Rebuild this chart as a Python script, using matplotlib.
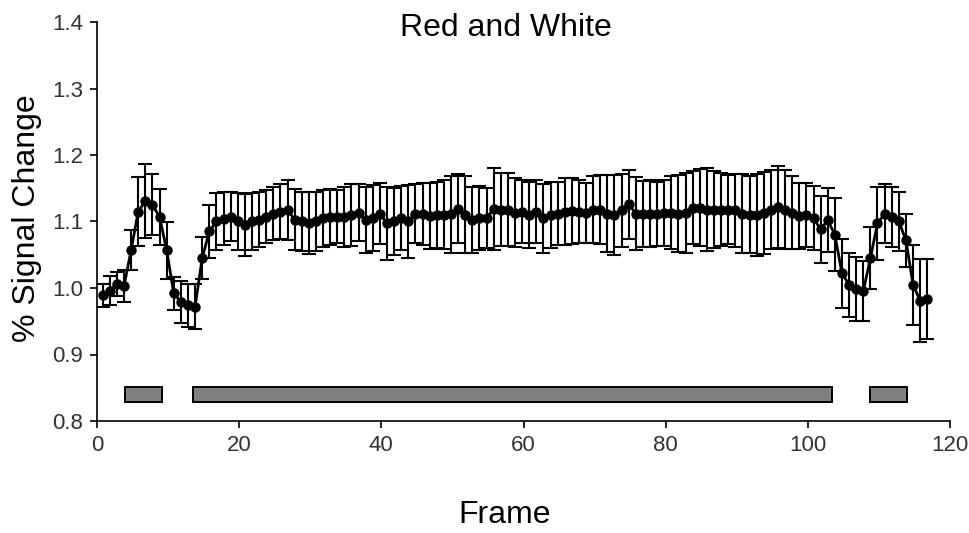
import numpy as np
import matplotlib
matplotlib.use("Agg")
import matplotlib.pyplot as plt

plt.rcParams["font.family"] = ["Liberation Sans", "DejaVu Sans"]

# mean % signal change per frame, with its standard error
frames = np.arange(1, 118)
signal = [
    0.989, 0.996, 1.006, 1.003, 1.057, 1.115, 1.131, 1.125, 1.107, 1.057,
    0.992, 0.979, 0.974, 0.972, 1.045, 1.085, 1.100, 1.104, 1.107, 1.100,
    1.095, 1.100, 1.103, 1.107, 1.112, 1.115, 1.117, 1.103, 1.100, 1.098,
    1.100, 1.105, 1.107, 1.107, 1.107, 1.110, 1.113, 1.102, 1.105, 1.112,
    1.097, 1.100, 1.105, 1.100, 1.112, 1.111, 1.108, 1.110, 1.110, 1.111,
    1.119, 1.110, 1.102, 1.105, 1.105, 1.119, 1.118, 1.118, 1.113, 1.115,
    1.110, 1.115, 1.105, 1.110, 1.112, 1.115, 1.116, 1.115, 1.113, 1.118,
    1.118, 1.112, 1.110, 1.117, 1.126, 1.112, 1.111, 1.112, 1.111, 1.113,
    1.113, 1.112, 1.113, 1.121, 1.121, 1.118, 1.118, 1.118, 1.118, 1.117,
    1.112, 1.110, 1.110, 1.113, 1.118, 1.122, 1.118, 1.113, 1.108, 1.110,
    1.105, 1.088, 1.102, 1.080, 1.022, 1.005, 0.999, 0.995, 1.045, 1.097,
    1.112, 1.107, 1.100, 1.072, 1.005, 0.981, 0.984,
]
sem = [
    0.017, 0.022, 0.018, 0.024, 0.030, 0.052, 0.056, 0.046, 0.042, 0.043,
    0.025, 0.032, 0.032, 0.034, 0.032, 0.040, 0.043, 0.040, 0.037, 0.043,
    0.047, 0.043, 0.042, 0.040, 0.040, 0.042, 0.045, 0.046, 0.045, 0.047,
    0.045, 0.043, 0.042, 0.040, 0.045, 0.047, 0.043, 0.050, 0.050, 0.046,
    0.055, 0.050, 0.048, 0.055, 0.045, 0.047, 0.050, 0.050, 0.052, 0.058,
    0.052, 0.058, 0.050, 0.048, 0.045, 0.062, 0.055, 0.055, 0.052, 0.048,
    0.050, 0.048, 0.052, 0.050, 0.048, 0.050, 0.050, 0.048, 0.045, 0.050,
    0.052, 0.058, 0.060, 0.055, 0.052, 0.055, 0.050, 0.050, 0.048, 0.050,
    0.055, 0.058, 0.060, 0.055, 0.058, 0.062, 0.058, 0.055, 0.052, 0.055,
    0.060, 0.058, 0.062, 0.062, 0.060, 0.062, 0.060, 0.055, 0.050, 0.048,
    0.048, 0.050, 0.048, 0.055, 0.052, 0.048, 0.048, 0.045, 0.047, 0.055,
    0.045, 0.045, 0.045, 0.040, 0.060, 0.062, 0.060,
]

# stimulus blocks (start, end frame)
block_start = [4, 13.5, 108.8]
block_end = [9.2, 103.4, 114]
block_level = 0.84

fig = plt.figure(figsize=(9.7, 5.33), dpi=100)
ax = fig.add_axes([97 / 970, 1 - 421 / 533, 853 / 970, 399 / 533])

ax.errorbar(frames - 0.2, signal, yerr=sem, fmt="none", ecolor="black",
            elinewidth=1.5, capsize=4.7, capthick=1.5, zorder=2)
ax.plot(frames - 0.2, signal, color="black", lw=2, marker="o", ms=6.5, zorder=3)

for s, e in zip(block_start, block_end):
    ax.barh(block_level, e - s, left=s, height=0.022, color="#808080",
            edgecolor="black", linewidth=1.4, zorder=2)

ax.set_xlim(0, 120)
ax.set_ylim(0.8, 1.4)
ax.set_xticks(range(0, 121, 20))
ax.set_yticks(np.arange(0.8, 1.41, 0.1))
ax.set_yticklabels([f"{v:.1f}" for v in np.arange(0.8, 1.41, 0.1)])
for sp in ["top", "right"]:
    ax.spines[sp].set_visible(False)
for sp in ["left", "bottom"]:
    ax.spines[sp].set_linewidth(1.2)
ax.tick_params(direction="out", length=5, width=1.2, labelsize=16,
               labelcolor="#333333", pad=5)

fig.text(506 / 970, 1 - 28 / 533, "Red and White", ha="center", va="center",
         fontsize=23)
fig.text(505 / 970, 1 - 515 / 533, "Frame", ha="center", va="center",
         fontsize=23)
fig.text(27 / 970, 1 - 218 / 533, "% Signal Change", ha="center", va="center",
         rotation=90, fontsize=23)

fig.savefig("out.png", dpi=100)
